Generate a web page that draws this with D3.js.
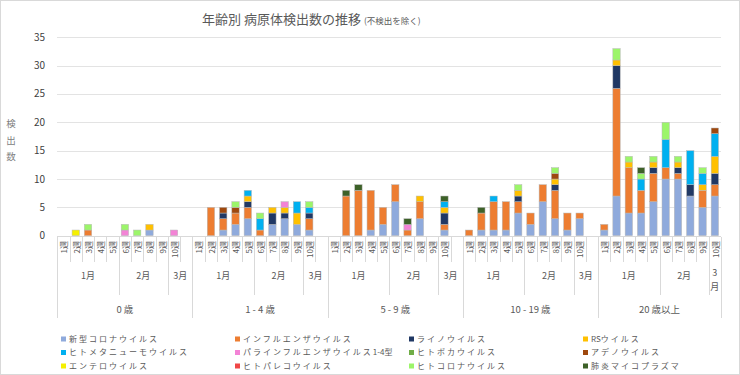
<!DOCTYPE html>
<html lang="ja">
<head>
<meta charset="UTF-8">
<title>年齢別 病原体検出数の推移</title>
<style>
  body { margin: 0; background: #fff; }
  svg { font-family: "Noto Sans CJK JP", sans-serif; }
  .grid line { stroke: #e3e3e3; shape-rendering: crispEdges; }
  .sep { stroke: #d9d9d9; shape-rendering: crispEdges; }
  .lbl { fill: #595959; }
</style>
</head>
<body>
<svg width="740" height="375"></svg>
<script src="https://cdn.jsdelivr.net/npm/d3@7"></script>
<script>
// ---- data (5 age groups x 10 weeks, age-major) ----
var ages = ["0 歳", "1 - 4 歳", "5 - 9 歳", "10 - 19 歳", "20 歳以上"];
var weeks = ["1週", "2週", "3週", "4週", "5週", "6週", "7週", "8週", "9週", "10週"];
var weekMonths = ["1月", "1月", "1月", "1月", "1月", "2月", "2月", "2月", "2月", "3月"];
var yTicks = [0, 5, 10, 15, 20, 25, 30, 35];

var seriesNames = ["新型コロナウイルス", "インフルエンザウイルス", "ライノウイルス", "RSウイルス",
  "ヒトメタニューモウイルス", "パラインフルエンザウイルス1-4型", "ヒトボカウイルス", "アデノウイルス",
  "エンテロウイルス", "ヒトパレコウイルス", "ヒトコロナウイルス", "肺炎マイコプラズマ"];
var seriesColors = ["#8faadc", "#ed7d31", "#203864", "#ffc000", "#00b0f0", "#f383d6",
  "#70ad47", "#9e480e", "#f5f000", "#f04646", "#9cf56a", "#3d6128"];

var covid    = [0,0,0,0,0,0,0,1,0,0,  0,0,1,2,3,0,2,3,2,1,  0,0,0,1,2,6,0,3,0,1,  0,1,1,1,4,2,6,3,1,3,  1,7,4,4,6,10,10,7,5,7];
var flu      = [0,0,1,0,0,0,0,0,0,0,  0,5,2,2,2,1,0,0,0,2,  0,7,8,7,3,3,1,3,0,1,  1,3,5,5,2,2,3,5,3,1,  1,19,8,4,5,2,1,0,3,2];
var rhino    = [0,0,0,0,0,0,0,0,0,0,  0,0,1,0,1,0,2,1,0,1,  0,0,0,0,0,0,0,0,0,2,  0,0,0,0,1,0,0,1,0,0,  0,4,0,0,1,0,1,2,0,2];
var rsv      = [0,0,0,0,0,0,0,1,0,0,  0,0,0,0,1,0,1,1,2,0,  0,0,0,0,0,0,0,1,0,1,  0,0,0,0,1,0,0,1,0,0,  0,1,1,0,1,0,1,0,1,3];
var hmpv     = [0,0,0,0,0,0,0,0,0,0,  0,0,0,0,1,2,0,0,2,1,  0,0,0,0,0,0,0,0,0,1,  0,0,1,0,0,0,0,0,0,0,  0,0,0,2,0,5,0,6,2,4];
var para     = [0,0,0,0,0,1,0,0,0,1,  0,0,0,0,0,0,0,1,0,0,  0,0,0,0,0,0,1,0,0,0,  0,0,0,0,0,0,0,0,0,0,  0,0,0,0,0,0,0,0,0,0];
var boca     = [0,0,0,0,0,0,0,0,0,0,  0,0,0,0,0,0,0,0,0,0,  0,0,0,0,0,0,0,0,0,0,  0,0,0,0,0,0,0,0,0,0,  0,0,0,0,0,0,0,0,0,0];
var adeno    = [0,0,0,0,0,0,0,0,0,0,  0,0,1,1,0,0,0,0,0,0,  0,0,0,0,0,0,0,0,0,0,  0,0,0,0,0,0,0,1,0,0,  0,0,0,0,0,0,0,0,0,1];
var entero   = [0,1,0,0,0,0,0,0,0,0,  0,0,0,0,0,0,0,0,0,0,  0,0,0,0,0,0,0,0,0,0,  0,0,0,0,0,0,0,0,0,0,  0,0,0,0,0,0,0,0,0,0];
var pareco   = [0,0,0,0,0,0,0,0,0,0,  0,0,0,0,0,0,0,0,0,0,  0,0,0,0,0,0,0,0,0,0,  0,0,0,0,0,0,0,0,0,0,  0,0,0,0,0,0,0,0,0,0];
var hcov     = [0,0,1,0,0,1,1,0,0,0,  0,0,0,1,0,1,0,0,0,1,  0,0,0,0,0,0,0,0,0,0,  0,0,0,0,1,0,0,1,0,0,  0,2,1,1,1,3,1,0,1,0];
var myco     = [0,0,0,0,0,0,0,0,0,0,  0,0,0,0,0,0,0,0,0,0,  0,1,1,0,0,0,1,0,0,1,  0,1,0,0,0,0,0,0,0,0,  0,0,0,1,0,0,0,0,0,0];

var seriesValues = [covid, flu, rhino, rsv, hmpv, para, boca, adeno, entero, pareco, hcov, myco];

// ---- build category slots (Excel leaves one empty slot after each of the first 4 age groups) ----
var slots = [];
ages.forEach(function(a, ai) {
    weeks.forEach(function(w, wi) {
        var row = {key: ai + "|" + wi, age: a, month: weekMonths[wi], week: w};
        seriesNames.forEach(function(s, si) { row[s] = seriesValues[si][ai * 10 + wi]; });
        slots.push(row);
    });
    if (ai < ages.length - 1) {
        var gap = {key: ai + "|gap", age: a, month: "3月", week: ""};
        seriesNames.forEach(function(s) { gap[s] = 0; });
        slots.push(gap);
    }
});

var svg = d3.select("svg");
var plotLeft = 57.3, plotRight = 721, plotTop = 37.3, plotBottom = 235.7;

svg.append("rect").attr("x", 0.5).attr("y", 0.5).attr("width", 739).attr("height", 374)
    .attr("fill", "#fff").attr("stroke", "#d9d9d9");

var x = d3.scaleBand().domain(slots.map(function(d) { return d.key; }))
    .range([plotLeft, plotRight]).paddingInner(0.4).paddingOuter(0.2);
var y = d3.scaleLinear().domain([0, 35]).range([plotBottom, plotTop]);

// gridlines + y labels
var grid = svg.append("g").attr("class", "grid");
grid.selectAll("line").data(yTicks.slice(1)).enter().append("line")
    .attr("x1", plotLeft).attr("x2", plotRight)
    .attr("y1", function(d) { return Math.round(y(d)) + 0.5; })
    .attr("y2", function(d) { return Math.round(y(d)) + 0.5; });

svg.append("g").selectAll("text").data(yTicks).enter().append("text")
    .attr("x", 45).attr("y", function(d) { return y(d); }).attr("dy", "0.35em")
    .attr("text-anchor", "end").attr("font-size", "10px").style("fill", "#404040")
    .text(function(d) { return d; });

// y axis title, vertical stacked characters
svg.append("g").selectAll("text").data("検出数".split("")).enter().append("text")
    .attr("x", 11).attr("y", function(d, i) { return 127 + i * 16.5; })
    .attr("text-anchor", "middle").attr("font-size", "9.5px").style("fill", "#808080")
    .text(function(d) { return d; });

// stacked bars
var stack = d3.stack().keys(seriesNames)(slots);
var color = d3.scaleOrdinal().domain(seriesNames).range(seriesColors);

svg.append("g").selectAll("g").data(stack).enter().append("g")
    .attr("fill", function(d) { return color(d.key); })
    .selectAll("rect").data(function(d) { return d.filter(function(p) { return p[1] > p[0]; }); })
    .enter().append("rect")
    .attr("x", function(d) { return x(d.data.key); })
    .attr("width", x.bandwidth())
    .attr("y", function(d) { return y(d[1]); })
    .attr("height", function(d) { return y(d[0]) - y(d[1]); })
    .attr("stroke", "#b8b8b8").attr("stroke-width", 0.5);

// category axis
var step = x.step();
svg.append("line").attr("class", "sep").attr("x1", plotLeft).attr("x2", plotRight)
    .attr("y1", Math.round(plotBottom) + 0.5).attr("y2", Math.round(plotBottom) + 0.5);

var axisTop = plotBottom + 1;
for (var i = 0; i <= slots.length; i++) {
    var bx = Math.round(plotLeft + i * step) + 0.5;
    var a = slots[i - 1], b = slots[i];
    var y2;
    if (!a || !b || a.age !== b.age) y2 = 318;
    else if (a.month !== b.month) y2 = 295;
    else y2 = 262;
    svg.append("line").attr("class", "sep").attr("x1", bx).attr("x2", bx)
        .attr("y1", axisTop).attr("y2", y2);
}

// week labels (rotated)
svg.append("g").selectAll("text").data(slots.filter(function(d) { return d.week; })).enter().append("text")
    .attr("class", "lbl").attr("font-size", "8px")
    .attr("transform", function(d) {
        return "translate(" + (x(d.key) + x.bandwidth() / 2 + 1) + "," + 241 + ") rotate(-90)";
    })
    .attr("dy", "0.35em").attr("text-anchor", "end")
    .text(function(d) { return d.week; });

// month labels
var monthGroups = [];
slots.forEach(function(d, i) {
    var last = monthGroups[monthGroups.length - 1];
    if (last && last.age === d.age && last.month === d.month) last.end = i;
    else monthGroups.push({age: d.age, month: d.month, start: i, end: i});
});
monthGroups.forEach(function(m) {
    var cx = plotLeft + (m.start + m.end + 1) / 2 * step;
    if (m.end === m.start) {
        // single-slot month: stack characters vertically
        svg.append("g").selectAll("text").data(m.month.split("")).enter().append("text")
            .attr("class", "lbl").attr("font-size", "9px").attr("text-anchor", "middle")
            .attr("x", cx).attr("y", function(d, i) { return 276 + i * 13.5; })
            .text(function(d) { return d; });
    } else {
        svg.append("text").attr("class", "lbl").attr("font-size", "9px")
            .attr("text-anchor", "middle").attr("x", cx).attr("y", 279)
            .text(m.month);
    }
});

// age labels
ages.forEach(function(a) {
    var idx = slots.map(function(d, i) { return d.age === a ? i : -1; }).filter(function(i) { return i >= 0; });
    var cx = plotLeft + (idx[0] + idx[idx.length - 1] + 1) / 2 * step;
    svg.append("text").attr("class", "lbl").attr("font-size", "9.5px")
        .attr("text-anchor", "middle").attr("x", cx).attr("y", 313).text(a);
});

// title
var title = svg.append("text").attr("x", 202).attr("y", 24).style("fill", "#595959");
title.append("tspan").attr("font-size", "13px").text("年齢別 病原体検出数の推移");
title.append("tspan").attr("font-size", "8.5px").attr("dx", 3).text("(不検出を除く)");

// legend, 4 columns x 3 rows; latin parts are set without the wide kana spacing
var legX = [61, 235, 409, 583], legY = [339, 352.5, 366];
var legend = svg.append("g").selectAll("g").data(seriesNames).enter().append("g")
    .attr("transform", function(d, i) { return "translate(" + legX[i % 4] + "," + legY[Math.floor(i / 4)] + ")"; });
legend.append("rect").attr("x", 0).attr("y", -2.5).attr("width", 5).attr("height", 5)
    .attr("fill", function(d) { return color(d); });
legend.append("text").attr("class", "lbl").attr("x", 8).attr("dy", "0.35em")
    .attr("font-size", "8px")
    .each(function(d) {
        var t = d3.select(this);
        d.split(/([A-Za-z0-9\-]+)/).filter(function(s) { return s; }).forEach(function(part) {
            var latin = /^[A-Za-z0-9\-]+$/.test(part);
            t.append("tspan").attr("letter-spacing", latin ? "0px" : "2px").text(part);
        });
    });
</script>
</body>
</html>
